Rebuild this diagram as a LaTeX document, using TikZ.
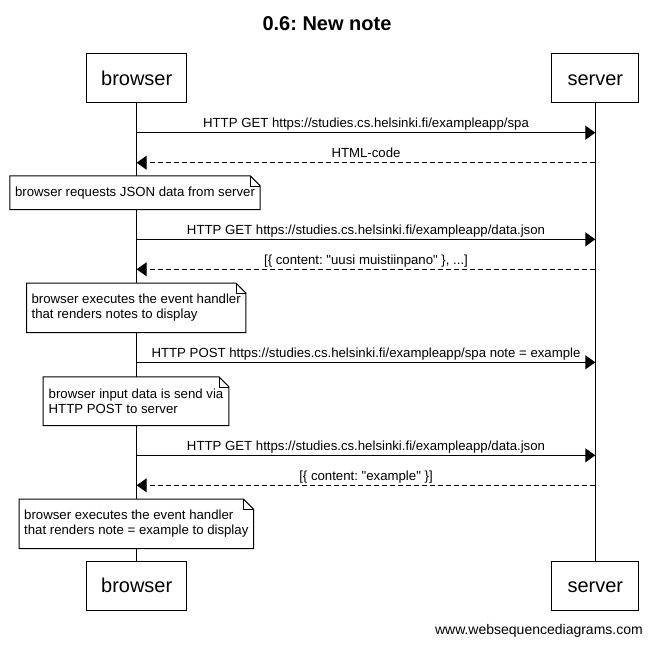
\documentclass[tikz,border=0pt]{standalone}
\usepackage{fontspec}
\setmainfont{Liberation Sans}[Ligatures=TeXOff]
\usetikzlibrary{arrows.meta}
\frenchspacing
\tikzset{
  actorbox/.style={draw, line width=1pt, inner sep=0pt, text height=14.6pt, text depth=0pt,
    font=\fontsize{20}{24}\selectfont, minimum height=49pt},
  lifeline/.style={line width=1pt},
  msg/.style={line width=1pt, -{Triangle[length=10pt,width=14pt]}},
  reply/.style={msg, dash pattern=on 5pt off 3pt},
  lbl/.style={font=\fontsize{13.2}{15.5}\selectfont, anchor=base, inner sep=0pt, yshift=5pt},
  notebox/.style={fill=white, inner sep=0pt, align=left, font=\fontsize{13.2}{15.5}\selectfont},
  noteline/.style={line width=1pt},
  foldline/.style={line width=0.6pt},
}
\newcommand\dogear[1]{%
  \draw[noteline] (#1.north west) -- ([xshift=-10pt]#1.north east) -- ([yshift=-10pt]#1.north east)
    -- (#1.south east) -- (#1.south west) -- cycle;
  \draw[foldline] ([xshift=-10pt]#1.north east) -- ([xshift=-10pt,yshift=-10pt]#1.north east)
    -- ([yshift=-10pt]#1.north east);
}
\begin{document}
\frenchspacing
\begin{tikzpicture}[x=1pt,y=-1pt]
\useasboundingbox (0,0) rectangle (653,645);
% title
\node (title) [font=\bfseries\fontsize{20}{24}\selectfont, anchor=base, inner sep=0pt] at (327,30) {0.6: New note};
% actors
\node (bt) [actorbox, minimum width=100pt] at (136.7,77.7) {browser};
\node (st) [actorbox, minimum width=87pt] at (595.3,77.7) {server};
\node (bb) [actorbox, minimum width=100pt] at (136.7,585.5) {browser};
\node (sb) [actorbox, minimum width=87pt] at (595.3,585.5) {server};
% lifelines
\draw[lifeline] (bt.south) -- (bb.north);
\draw[lifeline] (st.south) -- (sb.north);
% message anchor points
\coordinate (b1) at (136.7,132.7); \coordinate (s1) at (595.3,132.7);
\coordinate (b2) at (136.7,162.7); \coordinate (s2) at (595.3,162.7);
\coordinate (b3) at (136.7,239.3); \coordinate (s3) at (595.3,239.3);
\coordinate (b4) at (136.7,269.3); \coordinate (s4) at (595.3,269.3);
\coordinate (b5) at (136.7,362.3); \coordinate (s5) at (595.3,362.3);
\coordinate (b6) at (136.7,455.3); \coordinate (s6) at (595.3,455.3);
\coordinate (b7) at (136.7,485.3); \coordinate (s7) at (595.3,485.3);
% messages
\draw[msg] (b1) -- node[lbl] {HTTP GET https://studies.cs.helsinki.fi/exampleapp/spa} (s1);
\draw[reply] (s2) -- node[lbl] {HTML-code} (b2);
\draw[msg] (b3) -- node[lbl] {HTTP GET https://studies.cs.helsinki.fi/exampleapp/data.json} (s3);
\draw[reply] (s4) -- node[lbl] {[\{ content: "uusi muistiinpano" \}, ...]} (b4);
\draw[msg] (b5) -- node[lbl] {HTTP POST https://studies.cs.helsinki.fi/exampleapp/spa note = example} (s5);
\draw[msg] (b6) -- node[lbl] {HTTP GET https://studies.cs.helsinki.fi/exampleapp/data.json} (s6);
\draw[reply] (s7) -- node[lbl] {[\{ content: "example" \}]} (b7);
% notes
\node (n1) [notebox, minimum width=250pt, minimum height=33.3pt] at (135,192.7) {browser requests JSON data from server};
\dogear{n1}
\node (n2) [notebox, minimum width=219pt, minimum height=49pt] at (136.2,307.8) {browser executes the event handler\\that renders notes to display};
\dogear{n2}
\node (n3) [notebox, minimum width=185.4pt, minimum height=48.3pt] at (136,401.2) {browser input data is send via\\HTTP POST to server};
\dogear{n3}
\node (n4) [notebox, minimum width=234pt, minimum height=49pt] at (136.3,523.8) {browser executes the event handler\\that renders note = example to display};
\dogear{n4}
% watermark
\node (wm) [font=\fontsize{14}{17}\selectfont, anchor=base east, inner sep=0pt] at (643,634) {www.websequencediagrams.com};
\end{tikzpicture}
\end{document}
